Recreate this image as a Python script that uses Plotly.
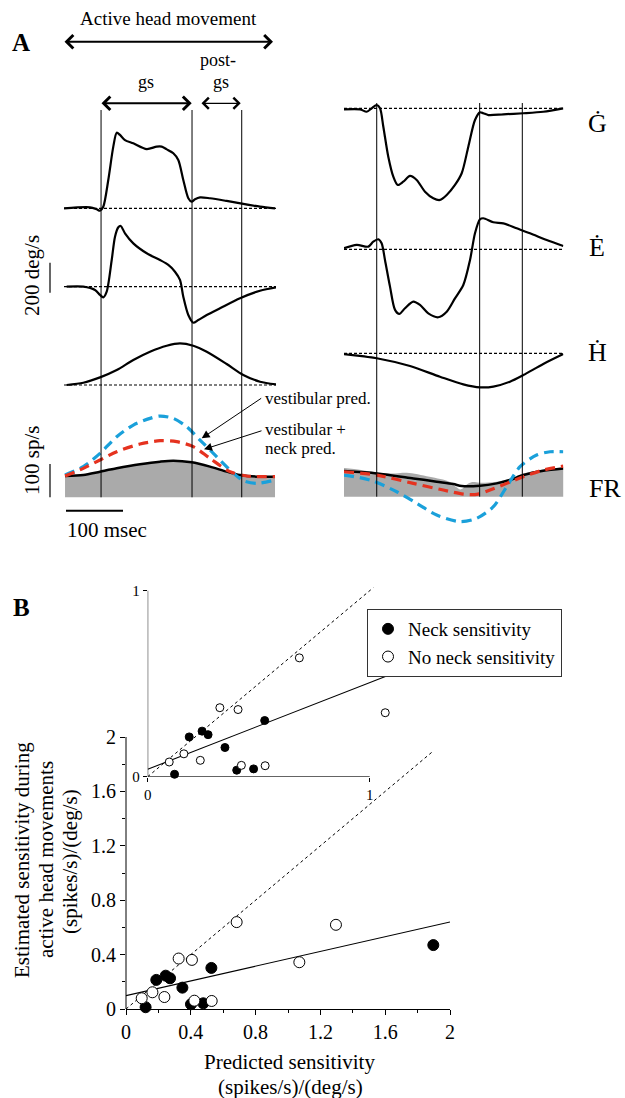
import plotly.graph_objects as go

W, H = 625, 1098
FONT = "Liberation Serif"

def px(x):
    return x / W

def py(y):
    return 1 - y / H

# ---------------- Panel A data (time in ms; velocities deg/s; firing rate sp/s) ----------------
# Left column
LG_t = [0, 45.6, 57.4, 63.2, 68.9, 77.7, 86.5, 92.5, 98.2, 107, 121.6, 145.1, 162.6, 171.4, 180.2,
        191.8, 200.5, 209.3, 218.1, 224, 229.8, 238.6, 256.1, 285.4, 314.6, 343.9, 370.2]
LG_v = [0, 6.7, -6.7, -16, 10.7, 189, 411, 504, 489, 455, 433, 395, 411, 411, 393,
        367, 322, 189, 67, 44, 60, 73, 67, 49, 29, 11, 0]
LE_t = [4.7, 33.9, 54.4, 63.2, 68.9, 74.9, 83.7, 89.5, 95.3, 99.5, 107, 121.6, 145.1, 168.4, 183,
        194.7, 203.5, 209.3, 218.1, 226.8, 235.6, 250.4, 273.7, 308.8, 343.9, 373.2]
LE_v = [0, 0, -22, -55, -71, -33, 178, 333, 396, 405, 356, 289, 223, 178, 145,
        100, 45, -67, -189, -240, -222, -189, -144, -77, -27, -4]
LH_t = [4.7, 33.9, 63.2, 92.5, 121.6, 150.9, 180.2, 203.5, 226.8, 250.4, 285.4, 314.6, 343.9, 373.2]
LH_v = [0, 15, 51, 100, 167, 222, 262, 278, 262, 222, 140, 67, 22, 4]
LFR_t = [1.8, 33.9, 63.2, 92.5, 133.3, 168.4, 191.8, 224, 256.1, 285.4, 308.8, 338, 370.2]
LFR_v = [64, 67, 77, 87, 99, 107, 110, 105, 92, 77, 67, 62, 62]
LVEST_t = [1.8, 33.9, 63.2, 92.5, 121.6, 150.9, 168.4, 191.8, 215.3, 238.6, 262, 291.2, 314.6, 338, 370.2]
LVEST_v = [67, 92, 132, 182, 217, 237, 244, 237, 212, 172, 132, 82, 50, 42, 52]
LNECK_t = [1.8, 33.9, 63.2, 92.5, 133.3, 168.4, 197.7, 226.8, 256.1, 291.2, 320.5, 370.2]
LNECK_v = [64, 87, 112, 137, 160, 170, 167, 152, 117, 77, 64, 62]
L_events = [65, 224.6, 311.8]   # gs onset, gs end, post-gs end

# Right column
RG_t = [0, 28.1, 39.8, 48.6, 57.4, 63.2, 69, 77.7, 86.5, 94.2, 104, 115.8, 127.5, 142.1, 156.7,
        168.4, 180.2, 194.7, 206.5, 218.1, 229.8, 238.6, 244.4, 253.2, 279.5, 314.6, 349.6, 384.7]
RG_v = [-7, -7, -23, 0, 22, 0, -123, -323, -456, -511, -489, -451, -478, -556, -600,
        -611, -578, -511, -433, -256, -78, -27, -33, -45, -40, -33, -23, 0]
RE_t = [0, 22.3, 42.6, 51.4, 60.2, 66, 71.9, 80.7, 89.5, 97.1, 107, 121.6, 133.3, 147.9, 165.4,
        180.2, 194.7, 209.3, 221.1, 229.8, 238.6, 244.4, 261.9, 279.5, 302.9, 326.3, 355.6, 384.7]
RE_v = [7, 29, 18, 51, 67, 40, -71, -249, -404, -431, -393, -349, -371, -427, -453,
        -416, -327, -238, -71, 107, 200, 207, 180, 173, 140, 107, 62, 22]
RH_t = [0, 57.4, 115.8, 168.4, 209.3, 238.6, 262, 291.2, 314.6, 349.6, 384.7]
RH_v = [-5, -33, -85, -156, -207, -227, -222, -189, -145, -71, -5]
RFR_t = [0, 57.4, 121.6, 162.6, 191.8, 206.5, 238.6, 267.9, 291.2, 314.6, 349.6, 384.7]
RFR_v = [77, 70, 55, 45, 38, 32, 33, 40, 50, 65, 78, 85]
RRAW_t = [0, 30, 60, 90, 110, 150, 185, 196, 205, 215, 225, 238, 268, 291, 315, 350, 385]
RRAW_v = [86, 80, 72, 70, 72, 60, 45, 30, 22, 36, 44, 42, 45, 55, 70, 82, 88]
RVEST_t = [0, 45.6, 92.5, 127.5, 162.6, 203.5, 232.8, 262, 285.4, 308.8, 338, 361.4, 384.7]
RVEST_v = [65, 50, 15, -20, -55, -75, -65, -30, 30, 90, 125, 135, 135]
RNECK_t = [0, 57.4, 121.6, 174.2, 209.3, 232.8, 256.1, 285.4, 314.6, 349.6, 384.7]
RNECK_v = [75, 65, 40, 20, 8, 7, 20, 40, 60, 80, 92]
R_events = [57.4, 238, 312.8]

# ---------------- Panel B data ----------------
neck_x = [0.121, 0.187, 0.245, 0.272, 0.348, 0.401, 0.477, 0.527, 1.897]
neck_y = [0.013, 0.214, 0.245, 0.226, 0.157, 0.035, 0.042, 0.302, 0.47]
noneck_x = [0.097, 0.163, 0.237, 0.325, 0.407, 0.422, 0.529, 0.683, 1.07, 1.296]
noneck_y = [0.079, 0.123, 0.088, 0.371, 0.361, 0.061, 0.059, 0.639, 0.344, 0.619]
fit_x = [0, 2]
fit_y = [0.098, 0.64]
unity_x = [0, 1.89]
unity_y = [0, 1.89]
inset_fit_x = [0, 1.114]
inset_fit_y = [0.04, 0.559]
inset_unity = [0, 1.016]
b_ticks = [0, 0.4, 0.8, 1.2, 1.6, 2]
b_ticktext = ["0", "0.4", "0.8", "1.2", "1.6", "2"]
b_minor = [0.2, 0.6, 1.0, 1.4, 1.8]

BLUE = "#1aa0da"
RED = "#e5321f"
GRAY = "#aaaaaa"

DEG = 200 / 30.0     # deg/s per pixel
SPS = 100 / 33.3     # sp/s per pixel
PXMS = 0.57          # pixels per ms

fig = go.Figure()

def line(t, v, xa, ya, color="black", width=2.2, dash="solid"):
    fig.add_trace(go.Scatter(x=t, y=v, xaxis=xa, yaxis=ya, mode="lines",
                             line=dict(color=color, width=width, dash=dash, shape="spline", smoothing=0.8),
                             showlegend=False, cliponaxis=False, hoverinfo="skip"))

# Left column
line(LG_t, LG_v, "x", "y")
line(LE_t, LE_v, "x", "y2")
line(LH_t, LH_v, "x", "y3")
fig.add_trace(go.Scatter(x=LFR_t, y=LFR_v, xaxis="x", yaxis="y4", mode="lines", fill="tozeroy",
                         fillcolor=GRAY, line=dict(width=0, shape="spline"), showlegend=False,
                         hoverinfo="skip"))
line(LFR_t, LFR_v, "x", "y4", width=2.5)
line(LVEST_t, LVEST_v, "x", "y4", color=BLUE, width=3.2, dash="10px,6px")
line(LNECK_t, LNECK_v, "x", "y4", color=RED, width=3.2, dash="10px,6px")

# Right column
line(RG_t, RG_v, "x2", "y5")
line(RE_t, RE_v, "x2", "y6")
line(RH_t, RH_v, "x2", "y7")
fig.add_trace(go.Scatter(x=RRAW_t, y=RRAW_v, xaxis="x2", yaxis="y8", mode="lines", fill="tozeroy",
                         fillcolor=GRAY, line=dict(width=0, shape="spline"), showlegend=False,
                         hoverinfo="skip"))
line(RFR_t, RFR_v, "x2", "y8", width=2.5)
line(RVEST_t, RVEST_v, "x2", "y8", color=BLUE, width=3.2, dash="10px,6px")
line(RNECK_t, RNECK_v, "x2", "y8", color=RED, width=3.2, dash="10px,6px")

# ---------------- Panel B traces ----------------
fig.add_trace(go.Scatter(x=unity_x, y=unity_y, xaxis="x3", yaxis="y9", mode="lines",
                         line=dict(color="black", width=1, dash="3px,3px"), showlegend=False))
fig.add_trace(go.Scatter(x=fit_x, y=fit_y, xaxis="x3", yaxis="y9", mode="lines",
                         line=dict(color="black", width=1.1), showlegend=False))
fig.add_trace(go.Scatter(x=neck_x, y=neck_y, xaxis="x3", yaxis="y9", mode="markers",
                         name="Neck sensitivity", cliponaxis=False,
                         marker=dict(size=11, color="black", line=dict(color="black", width=1))))
fig.add_trace(go.Scatter(x=noneck_x, y=noneck_y, xaxis="x3", yaxis="y9", mode="markers",
                         name="No neck sensitivity", cliponaxis=False,
                         marker=dict(size=11, color="white", line=dict(color="black", width=1))))
# inset
fig.add_trace(go.Scatter(x=inset_unity, y=inset_unity, xaxis="x4", yaxis="y10", mode="lines",
                         line=dict(color="black", width=1, dash="3px,3px"), showlegend=False))
fig.add_trace(go.Scatter(x=inset_fit_x, y=inset_fit_y, xaxis="x4", yaxis="y10", mode="lines",
                         line=dict(color="black", width=1.1), showlegend=False, cliponaxis=False))
fig.add_trace(go.Scatter(x=neck_x, y=neck_y, xaxis="x4", yaxis="y10", mode="markers",
                         showlegend=False, cliponaxis=False,
                         marker=dict(size=8, color="black", line=dict(color="black", width=1))))
fig.add_trace(go.Scatter(x=noneck_x, y=noneck_y, xaxis="x4", yaxis="y10", mode="markers",
                         showlegend=False, cliponaxis=False,
                         marker=dict(size=8, color="white", line=dict(color="black", width=1))))

# ---------------- axes ----------------
def row_axis(top, bot, base, scale, anchor):
    return dict(domain=[py(bot), py(top)], range=[(base - bot) * scale, (base - top) * scale],
                visible=False, anchor=anchor, fixedrange=True)

hidden_x = dict(visible=False, fixedrange=True)
layout = dict(
    width=W, height=H, margin=dict(l=0, r=0, t=0, b=0, autoexpand=False),
    paper_bgcolor="white", plot_bgcolor="rgba(0,0,0,0)",
    font=dict(family=FONT, color="black"),
    xaxis=dict(domain=[px(64), px(64 + 372 * PXMS)], range=[0, 372], anchor="y", **hidden_x),
    xaxis2=dict(domain=[px(344), px(344 + 385 * PXMS)], range=[0, 385], anchor="y5", **hidden_x),
    yaxis=row_axis(105, 215, 208.3, DEG, "x"),
    yaxis2=row_axis(215, 330, 286.7, DEG, "x"),
    yaxis3=row_axis(330, 392, 385, DEG, "x"),
    yaxis4=row_axis(400, 530, 497.3, SPS, "x"),
    yaxis5=row_axis(95, 210, 108.3, DEG, "x2"),
    yaxis6=row_axis(205, 330, 249.3, DEG, "x2"),
    yaxis7=row_axis(340, 395, 353.3, DEG, "x2"),
    yaxis8=row_axis(440, 530, 496.7, SPS, "x2"),
)
tickfont = dict(family=FONT, size=20, color="black")
layout["xaxis3"] = dict(domain=[px(126), px(450)], range=[0, 2], anchor="y9",
                        showline=True, linecolor="black", linewidth=1, showgrid=False, zeroline=False,
                        tickvals=b_ticks, ticktext=b_ticktext, ticks="outside", ticklen=5,
                        tickcolor="black", tickfont=tickfont, automargin=False,
                        minor=dict(tickvals=b_minor, ticks="outside", ticklen=3, tickcolor="black"),
                        fixedrange=True)
layout["yaxis9"] = dict(domain=[py(1009), py(1009 - 3.1 * 136)], range=[0, 3.1], anchor="x3",
                        showline=False, showgrid=False, zeroline=False, automargin=False,
                        tickvals=b_ticks, ticktext=b_ticktext, ticks="outside", ticklen=5,
                        tickcolor="black", tickfont=tickfont,
                        minor=dict(tickvals=b_minor, ticks="outside", ticklen=3, tickcolor="black"),
                        fixedrange=True)
inset_font = dict(family=FONT, size=15, color="black")
layout["xaxis4"] = dict(domain=[px(147.7), px(147.7 + 222 * 1.12)], range=[0, 1.12], anchor="y10",
                        showline=False, showgrid=False, zeroline=False, tickvals=[0, 1],
                        ticktext=["0", "1"], ticks="outside", ticklen=4, tickcolor="black",
                        tickfont=inset_font, fixedrange=True, automargin=False)
layout["yaxis10"] = dict(domain=[py(776.7), py(776.7 - 186 * 1.02)], range=[0, 1.02], anchor="x4",
                         showline=False, showgrid=False, zeroline=False, tickvals=[0, 1],
                         ticktext=["0", "1"], ticks="outside", ticklen=4, tickcolor="black",
                         tickfont=inset_font, fixedrange=True, automargin=False)
layout["legend"] = dict(x=px(367), y=py(609), xanchor="left", yanchor="top",
                        bordercolor="#333333", borderwidth=1, bgcolor="white",
                        font=dict(family=FONT, size=19, color="black"), tracegroupgap=0,
                        itemwidth=30)
fig.update_layout(**layout)

# ---------------- shapes ----------------
shapes = []
for t in L_events:
    shapes.append(dict(type="line", xref="x", yref="paper", x0=t, x1=t, y0=py(497.3), y1=py(110),
                       line=dict(color="black", width=1)))
for t in R_events:
    shapes.append(dict(type="line", xref="x2", yref="paper", x0=t, x1=t, y0=py(496.7), y1=py(103),
                       line=dict(color="black", width=1)))
for xa, ya, xend in [("x", "y", 372), ("x", "y2", 372), ("x", "y3", 372),
                     ("x2", "y5", 385), ("x2", "y6", 385), ("x2", "y7", 385)]:
    shapes.append(dict(type="line", xref=xa, yref=ya, x0=0, x1=xend, y0=0, y1=0,
                       line=dict(color="black", width=1.2, dash="3px,2px"), layer="below"))
# scale bars
shapes.append(dict(type="line", xref="paper", yref="y2", x0=px(50), x1=px(50), y0=-40, y1=160,
                   line=dict(color="black", width=1.2)))
shapes.append(dict(type="line", xref="paper", yref="y4", x0=px(50), x1=px(50), y0=0, y1=100,
                   line=dict(color="black", width=1.2)))
shapes.append(dict(type="line", xref="x", yref="paper", x0=3.5, x1=103.5, y0=py(510.7), y1=py(510.7),
                   line=dict(color="black", width=2)))
# panel B axis lines
shapes.append(dict(type="line", xref="paper", yref="y9", x0=px(126), x1=px(126), y0=0, y1=2,
                   line=dict(color="black", width=1)))
shapes.append(dict(type="line", xref="x4", yref="y10", x0=0, x1=1, y0=0, y1=0,
                   line=dict(color="black", width=1)))
shapes.append(dict(type="line", xref="x4", yref="y10", x0=0, x1=0, y0=0, y1=1,
                   line=dict(color="black", width=1)))
fig.update_layout(shapes=shapes)

# ---------------- annotations ----------------
ann = []
def text(x, y, s, size=16, xanchor="center", angle=0, bold=False):
    if bold:
        s = "<b>" + s + "</b>"
    ann.append(dict(x=px(x), y=py(y), xref="paper", yref="paper", text=s, showarrow=False,
                    xanchor=xanchor, yanchor="middle", textangle=angle,
                    font=dict(family=FONT, size=size, color="black")))

def darrow(x0, x1, y, width=2, size=1.2):
    ann.append(dict(x=px(x1), y=py(y), xref="paper", yref="paper", ax=x0 - x1, ay=0,
                    text="", showarrow=True, arrowside="end+start", arrowhead=4, startarrowhead=4,
                    arrowwidth=width, arrowsize=size, startarrowsize=size, arrowcolor="black"))

text(21, 42, "A", size=25, bold=True)
text(21, 607, "B", size=25, bold=True)
text(168, 18, "Active head movement", size=19)
darrow(63, 273, 41.7, width=2, size=1.3)
text(146, 82, "gs", size=18)
darrow(100, 191.7, 103.3, width=2, size=1.3)
text(218, 60, "post-", size=18)
text(221, 82, "gs", size=18)
darrow(200, 240.7, 103.3, width=1.2, size=1.8)

text(32, 276, "200 deg/s", size=21, angle=-90)
text(32, 461, "100 sp/s", size=21, angle=-90)
text(65, 530, "100 msec", size=21, xanchor="left")

text(263, 398, "vestibular pred.", size=17, xanchor="left")
text(263, 429, "vestibular +", size=17, xanchor="left")
text(263, 448, "neck pred.", size=17, xanchor="left")
ann.append(dict(x=px(201.7), y=py(438.3), xref="paper", yref="paper", ax=61, ay=-41, text="",
                showarrow=True, arrowhead=2, arrowsize=1.6, arrowwidth=1, arrowcolor="black"))
ann.append(dict(x=px(204), y=py(449.3), xref="paper", yref="paper", ax=59, ay=-19, text="",
                showarrow=True, arrowhead=2, arrowsize=1.6, arrowwidth=1, arrowcolor="black"))

text(597, 124, "Ġ", size=26)
text(597, 248, "Ė", size=26)
text(597, 352, "Ḣ", size=26)
text(605, 489, "FR", size=26)

# axis titles (one annotation per line)
text(22, 860, "Estimated sensitivity during", size=21, angle=-90)
text(46, 860, "active head movements", size=21, angle=-90)
text(70, 862, "(spikes/s)/(deg/s)", size=21, angle=-90)
text(289, 1062, "Predicted sensitivity", size=21)
text(290, 1087, "(spikes/s)/(deg/s)", size=21)
fig.update_layout(annotations=ann)

fig.write_html("out.html", config={"displayModeBar": False},
               post_script="document.body.style.margin='0';document.body.style.padding='0';")
